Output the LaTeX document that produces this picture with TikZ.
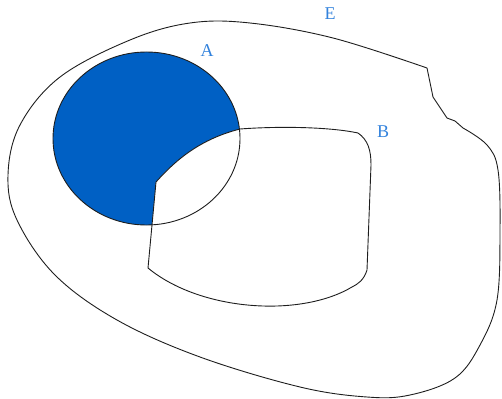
\documentclass[tikz,border=0pt]{standalone}
\usepackage{fontspec}
\setmainfont{Liberation Serif}
\usepackage{tikz}
\usetikzlibrary{positioning}
\definecolor{SetBlue}{RGB}{0,96,196}
\definecolor{LabelBlue}{RGB}{50,130,220}
\definecolor{LineGray}{RGB}{30,30,30}

\begin{document}
\begin{tikzpicture}[
  x=1pt, y=-1pt,
  outline/.style={draw=LineGray, line width=0.9pt},
  setlab/.style={
    text=LabelBlue,
    font=\fontsize{18}{21}\selectfont,
    inner sep=0pt,
  },
]
  \useasboundingbox (0,0) rectangle (502,398);
  % universe E
  \draw[outline] plot[smooth, tension=0.6] coordinates {
      (463,128) (487,145) (498,170) (500,230) (497,300) (480,345)
      (455,378) (410,395) (367,397) (300,387) (200,357) (117,320)
      (55,275) (17,220) (8,175) (20,125) (60,77) (130,40) (190,23)
      (250,23) (333,38) (427,68)}
    -- (433,97) -- (447,118) -- (455,121) -- cycle;
  % set A, shaded outside B
  \fill[SetBlue] (146.5,138.5) ellipse [x radius=93.5, y radius=86.5];
  \fill[white] (148,268) -- (156,182)
    .. controls (180,155) and (205,138) .. (240,129)
    .. controls (280,126) and (330,127) .. (358,133)
    .. controls (368,140) and (371,150) .. (371,165)
    -- (367,270)
    .. controls (364,280) and (358,284) .. (352,287)
    .. controls (300,318) and (200,311) .. cycle;
  \draw[outline] (146.5,138.5) ellipse [x radius=93.5, y radius=86.5];
  % set B
  \draw[outline] (148,268) -- (156,182)
    .. controls (180,155) and (205,138) .. (240,129)
    .. controls (280,126) and (330,127) .. (358,133)
    .. controls (368,140) and (371,150) .. (371,165)
    -- (367,270)
    .. controls (364,280) and (358,284) .. (352,287)
    .. controls (300,318) and (200,311) .. cycle;
  % labels
  \node[setlab] (E) at (330,14) {E};
  \node[setlab] (A) at (207,51) {A};
  \node[setlab] (B) at (383,132) {B};
\end{tikzpicture}
\end{document}
